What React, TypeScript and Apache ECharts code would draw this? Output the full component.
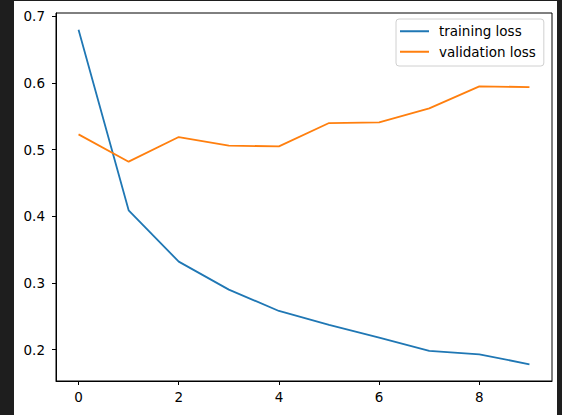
import React, { useEffect, useRef } from "react";
import * as echarts from "echarts";

const epochs = [0, 1, 2, 3, 4, 5, 6, 7, 8, 9];
const trainingLoss = [0.680, 0.409, 0.332, 0.290, 0.258, 0.237, 0.218, 0.198, 0.193, 0.178];
const validationLoss = [0.523, 0.482, 0.519, 0.506, 0.505, 0.540, 0.541, 0.562, 0.595, 0.594];
const xTicks = [0, 2, 4, 6, 8];
const yTicks = [0.2, 0.3, 0.4, 0.5, 0.6, 0.7];
const seriesNames = ["training loss", "validation loss"];

export default function App() {
  const ref = useRef<HTMLDivElement>(null);
  useEffect(() => {
    if (!ref.current) return;
    const chart = echarts.init(ref.current, undefined, { renderer: "svg" });
    const font = "DejaVu Sans";
    const fs = 13.5;
    const xMin = -0.45, xMax = 9.45;
    const allV = trainingLoss.concat(validationLoss);
    const vMin = Math.min(...allV), vMax = Math.max(...allV);
    const pad = (vMax - vMin) * 0.05;
    chart.setOption({
      animation: false,
      backgroundColor: "#ffffff",
      graphic: [
        { type: "rect", left: 0, top: 0, shape: { width: 14, height: 415 }, style: { fill: "#1e1e1e" }, silent: true },
        { type: "rect", left: 0, top: 0, shape: { width: 562, height: 1 }, style: { fill: "#1e1e1e" }, silent: true },
        { type: "rect", left: 557, top: 0, shape: { width: 5, height: 415 }, style: { fill: "#1e1e1e" }, silent: true },
      ],
      grid: {
        left: 56,
        top: 13,
        right: 10,
        bottom: 34,
        show: true,
        borderColor: "#000",
        borderWidth: 1,
        backgroundColor: "transparent",
      },
      legend: {
        data: seriesNames.map((n) => ({ name: n, icon: "rect" })),
        orient: "vertical",
        left: 396,
        top: 19,
        padding: [4, 8, 6, 4],
        itemWidth: 29,
        itemHeight: 2,
        itemGap: 4,
        backgroundColor: "rgba(255,255,255,0.8)",
        borderColor: "#d0d0d0",
        borderWidth: 1,
        borderRadius: 3,
        textStyle: { fontFamily: font, fontSize: fs, lineHeight: 16.5, color: "#000", padding: [0, 0, 0, 5] },
      },
      xAxis: {
        type: "value",
        min: xMin,
        max: xMax,
        splitLine: { show: false },
        axisLine: { show: true, onZero: false, lineStyle: { color: "#000", width: 1 } },
        axisTick: { show: true, length: 4, customValues: xTicks, lineStyle: { color: "#000" } },
        axisLabel: {
          customValues: xTicks,
          margin: 9,
          fontFamily: font,
          fontSize: fs,
          color: "#000",
        },
      },
      yAxis: {
        type: "value",
        min: vMin - pad,
        max: vMax + pad,
        splitLine: { show: false },
        axisLine: { show: true, onZero: false, lineStyle: { color: "#000", width: 1 } },
        axisTick: { show: true, length: 4, customValues: yTicks, lineStyle: { color: "#000" } },
        axisLabel: {
          customValues: yTicks,
          margin: 11,
          fontFamily: font,
          fontSize: fs,
          color: "#000",
          formatter: (v: number) => v.toFixed(1),
        },
      },
      series: [
        {
          name: seriesNames[0],
          type: "line",
          data: epochs.map((e, i) => [e, trainingLoss[i]]),
          symbol: "none",
          lineStyle: { color: "#1f77b4", width: 1.8 },
          itemStyle: { color: "#1f77b4" },
        },
        {
          name: seriesNames[1],
          type: "line",
          data: epochs.map((e, i) => [e, validationLoss[i]]),
          symbol: "none",
          lineStyle: { color: "#ff7f0e", width: 1.8 },
          itemStyle: { color: "#ff7f0e" },
        },
      ],
    });
    return () => chart.dispose();
  }, []);
  return (
    <div
      ref={ref}
      style={{ position: "absolute", left: 0, top: 0, width: 562, height: 415 }}
    />
  );
}
